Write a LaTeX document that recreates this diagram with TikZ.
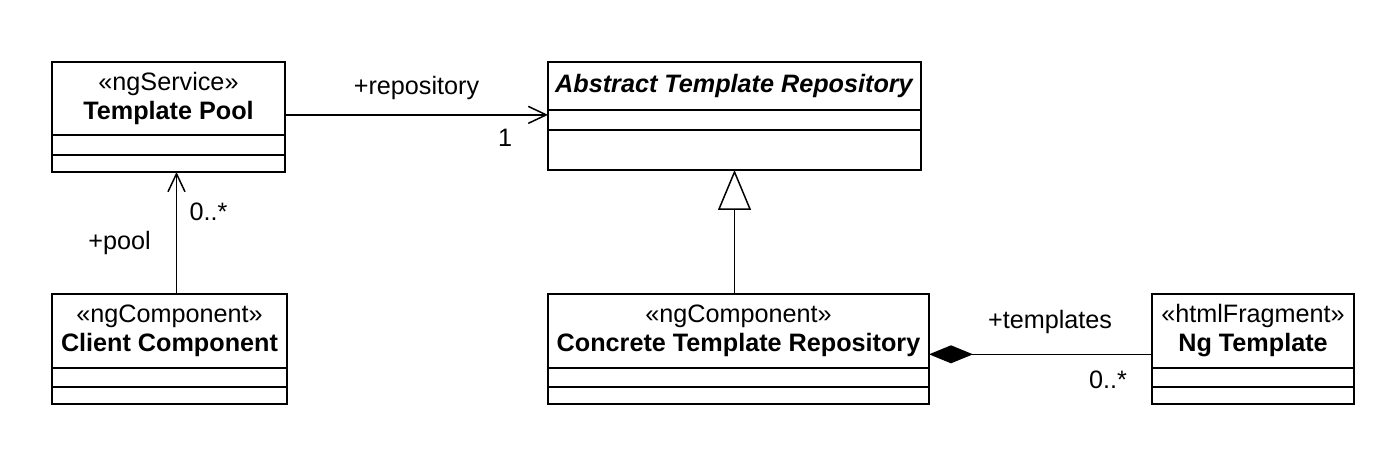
\documentclass[tikz,border=0pt]{standalone}
\usepackage{fontspec}
\setmainfont{Liberation Sans}
\usetikzlibrary{arrows.meta,positioning,calc}
\tikzset{
    classname/.style={
        draw=black,
        line width=1pt,
        outer sep=0pt,
        inner sep=0pt,
        anchor=north west,
        align=center,
        font=\fontsize{12.6pt}{14.5pt}\selectfont
    },
    compartment/.style={
        draw=black,
        line width=1pt,
        outer sep=0pt,
        inner sep=0pt
    },
    role/.style={
        font=\fontsize{12.6pt}{14.5pt}\selectfont,
        inner sep=0pt
    },
    assoc/.style={
        line width=0.75pt,
        -{Straight Barb[length=9pt,width=8.5pt]}
    },
    generalize/.style={
        line width=0.75pt,
        -{Triangle[open,length=20pt,width=16.5pt]}
    },
    compose/.style={
        line width=0.75pt,
        -{Diamond[length=22pt,width=9pt]}
    },
}

\begin{document}
\begin{tikzpicture}[x=0.5pt,y=-0.5pt]
  \useasboundingbox (0,0) rectangle (1400,469);
  % Template Pool
  \node[classname,minimum width=116.5pt,minimum height=36.5pt] (pool) at (52,62)
      {«ngService»\\\textbf{Template Pool}};
  \node[compartment,below=0pt of pool,minimum width=116.5pt,minimum height=10pt] (pool-attr) {};
  \node[compartment,below=0pt of pool-attr,minimum width=116.5pt,minimum height=8.5pt] (pool-ops) {};
  % Client Component
  \node[classname,minimum width=117.5pt,minimum height=37pt] (client) at (52,294)
      {«ngComponent»\\\textbf{Client Component}};
  \node[compartment,below=0pt of client,minimum width=117.5pt,minimum height=9.5pt] (client-attr) {};
  \node[compartment,below=0pt of client-attr,minimum width=117.5pt,minimum height=8.5pt] (client-ops) {};
  % Abstract Template Repository
  \node[classname,minimum width=186.5pt,minimum height=24pt] (abstract) at (548,62)
      {\textbf{\textit{Abstract Template Repository}}};
  \node[compartment,below=0pt of abstract,minimum width=186.5pt,minimum height=10pt] (abstract-attr) {};
  \node[compartment,below=0pt of abstract-attr,minimum width=186.5pt,minimum height=20pt] (abstract-ops) {};
  % Concrete Template Repository
  \node[classname,minimum width=190.5pt,minimum height=37pt] (concrete) at (548,294)
      {«ngComponent»\\\textbf{Concrete Template Repository}};
  \node[compartment,below=0pt of concrete,minimum width=190.5pt,minimum height=9.5pt] (concrete-attr) {};
  \node[compartment,below=0pt of concrete-attr,minimum width=190.5pt,minimum height=8.5pt] (concrete-ops) {};
  % Ng Template
  \node[classname,minimum width=101pt,minimum height=37pt] (ngtpl) at (1152,294)
      {«htmlFragment»\\\textbf{Ng Template}};
  \node[compartment,below=0pt of ngtpl,minimum width=101pt,minimum height=9.5pt] (ngtpl-attr) {};
  \node[compartment,below=0pt of ngtpl-attr,minimum width=101pt,minimum height=8.5pt] (ngtpl-ops) {};

  % Associations
  \draw[assoc] (pool.-8.5) -- (pool.-8.5 -| abstract.west)
      node[role,pos=.5,yshift=13.5pt] (repo-role) {+repository}
      node[role,pos=.837,yshift=-11.5pt] (repo-mult) {1};
  \draw[assoc] ([xshift=3.5pt]client.north) -- ([xshift=3.5pt]client.north |- pool-ops.south)
      node[role,pos=.672,xshift=16pt] (pool-mult) {0..*}
      node[role,pos=.418,xshift=-28.5pt] (pool-role) {+pool};
  % Generalization
  \draw[generalize] (concrete.north -| abstract-ops.south) -- (abstract-ops.south);
  % Composition
  \draw[compose] (ngtpl.193.9) -- (ngtpl.193.9 -| concrete.east)
      node[role,pos=.457,yshift=16pt] (tpl-role) {+templates}
      node[role,pos=.197,yshift=-13pt] (tpl-mult) {0..*};
\end{tikzpicture}
\end{document}
